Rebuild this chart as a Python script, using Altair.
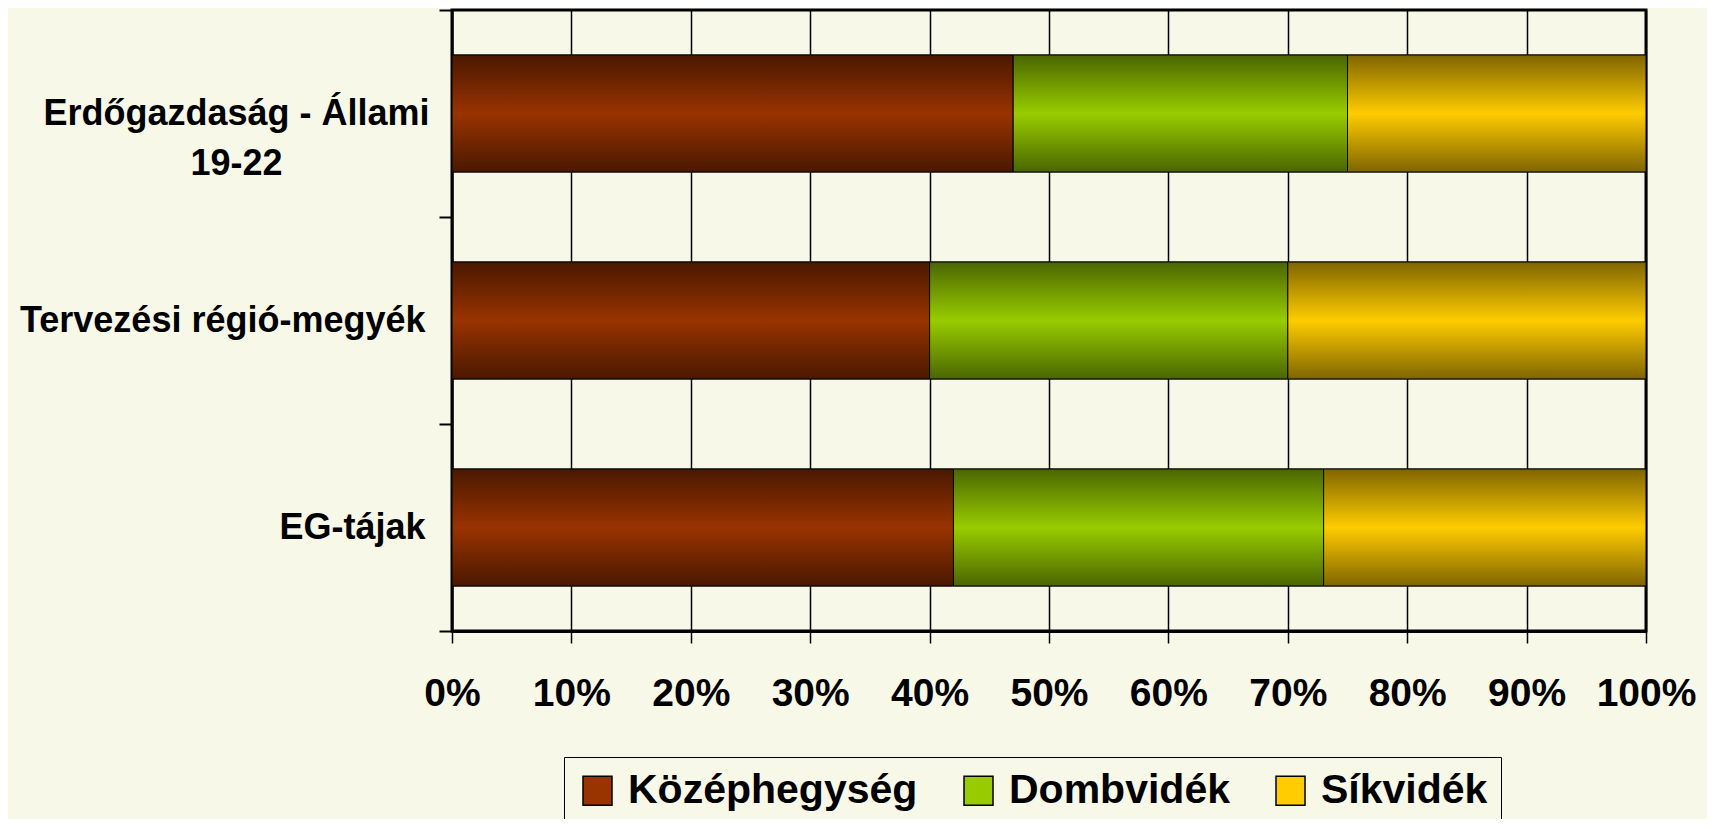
import altair as alt
import pandas as pd

categories = ["Erdőgazdaság - Állami|19-22", "Tervezési régió-megyék", "EG-tájak"]
series = ["Középhegység", "Dombvidék", "Síkvidék"]
kozephegyseg = [47, 40, 42]
dombvidek = [28, 30, 31]
sikvidek = [25, 30, 27]
x_ticks = [0, 0.1, 0.2, 0.3, 0.4, 0.5, 0.6, 0.7, 0.8, 0.9, 1.0]

mid_colors = ["#993300", "#99CC00", "#FFCC00"]
dark_colors = ["#4A1800", "#4A6600", "#7F6500"]
BG = "#F7F8E8"
FONT = "Liberation Sans, Arial, Helvetica, sans-serif"

rows = []
for ci, c in enumerate(categories):
    for si, (s, vals) in enumerate(zip(series, [kozephegyseg, dombvidek, sikvidek])):
        rows.append({"cat": c, "series": s, "order": si, "value": vals[ci]})
df = pd.DataFrame(rows)

base = alt.Chart(df).transform_stack(
    stack="value", groupby=["cat"], as_=["x0", "x1"], offset="normalize",
    sort=[alt.SortField("order", order="ascending")],
)

x_enc = alt.X(
    "x0:Q",
    scale=alt.Scale(domain=[0, 1], nice=False),
    axis=alt.Axis(
        values=x_ticks, format=".0%", title=None,
        grid=True, gridColor="black", gridWidth=1.5, gridOpacity=1,
        domain=True, domainColor="black", domainWidth=3,
        ticks=True, tickColor="black", tickSize=12, tickWidth=1.5,
        labelFont=FONT, labelFontSize=39, labelFontWeight="bold", labelColor="black",
        labelPadding=31, labelFlush=False, labelOverlap=False,
    ),
)

first = categories[0]
y_enc = alt.Y(
    "cat:N",
    sort=categories,
    scale=alt.Scale(paddingInner=0, paddingOuter=0),
    axis=alt.Axis(
        title=None, tickBand="extent",
        domain=True, domainColor="black", domainWidth=2,
        ticks=True, tickColor="black", tickSize=13, tickWidth=2,
        grid=False,
        labelExpr="split(datum.label, '|')",
        labelFont=FONT, labelFontSize=36, labelFontWeight="bold", labelColor="black",
        labelLineHeight=50, labelLimit=1000,
        labelAlign=alt.condition(f"datum.value == '{first}'", alt.value("center"), alt.value("right")),
        labelPadding=alt.condition(f"datum.value == '{first}'", alt.value(203), alt.value(14)),
    ),
)

BAR_H = alt.RelativeBandSize(band=0.565)

legend_layer = base.mark_bar(stroke="black", strokeWidth=1, height=BAR_H).encode(
    x=x_enc, x2="x1:Q", y=y_enc,
    color=alt.Color(
        "series:N",
        sort=series,
        scale=alt.Scale(domain=series, range=mid_colors),
        legend=alt.Legend(
            orient="none", legendX=112, legendY=747, direction="horizontal", title=None,
            labelFont=FONT, labelFontSize=41, labelFontWeight="bold", labelColor="black",
            labelLimit=1000, labelOffset=10, columnPadding=40,
            symbolType="square", symbolSize=841, symbolStrokeColor="black",
            symbolStrokeWidth=1.5, symbolOpacity=1,
            padding=13, strokeColor="black", fillColor=BG,
        ),
    ),
)

layers = [legend_layer]
for s, mid, dark in zip(series, mid_colors, dark_colors):
    grad = alt.Gradient(
        gradient="linear", x1=0, y1=0, x2=0, y2=1,
        stops=[
            alt.GradientStop(offset=0, color=dark),
            alt.GradientStop(offset=0.5, color=mid),
            alt.GradientStop(offset=1, color=dark),
        ],
    )
    layers.append(
        base.transform_filter(alt.datum.series == s)
        .mark_bar(fill=grad, stroke="black", strokeWidth=1, height=BAR_H)
        .encode(x="x0:Q", x2="x1:Q", y=alt.Y("cat:N", sort=categories))
    )

chart = alt.layer(*layers).properties(
    width=1194, height=621,
    padding={"left": 444, "top": 2, "right": 61, "bottom": 188},
    autosize=alt.AutoSizeParams(type="none"),
    background=BG,
).configure_view(stroke="black", strokeWidth=3, fill=BG)

chart.save("out.html", embed_options={"renderer": "svg", "actions": False})
